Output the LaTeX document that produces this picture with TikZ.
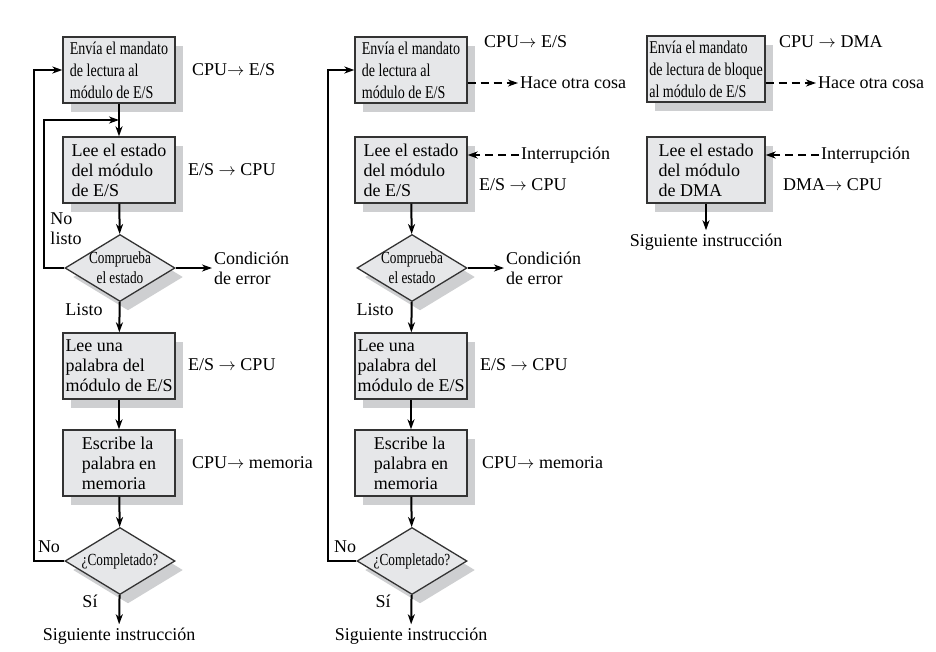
\documentclass[tikz,border=0pt]{standalone}
\usepackage{fontspec}
\setmainfont{Liberation Serif}
\newfontfamily\narrowfont[FakeStretch=0.78]{Liberation Serif}
\usepackage{xcolor}
\usetikzlibrary{arrows.meta,calc,positioning,shapes.geometric,shadows}
\definecolor{boxgray}{RGB}{230,231,233}
\definecolor{shadegray}{RGB}{206,207,209}
\tikzset{
	paso/.style={
			draw=black!80, line width=1.3pt, fill=boxgray, align=left,
			minimum width=112pt, minimum height=66pt, inner sep=2pt,
			drop shadow={shadow xshift=8pt, shadow yshift=-9pt, fill=shadegray, opacity=1}
		},
	decision/.style={
			diamond, draw=black!80, line width=1.3pt, fill=boxgray, inner sep=0pt,
			minimum width=110pt, minimum height=67pt,
			drop shadow={shadow xshift=8pt, shadow yshift=-9pt, fill=shadegray, opacity=1}
		},
	estrecho/.style={font=\narrowfont\fontsize{18}{22}\selectfont},
	rombotxt/.style={align=center, font=\narrowfont\fontsize{17}{20}\selectfont},
	flecha/.style={-{Stealth[length=10pt,width=7pt,inset=3pt]}, line width=2pt},
	discont/.style={flecha, dash pattern=on 8pt off 5pt},
	etiq/.style={inner sep=2pt, align=left}
}

\begin{document}
\begin{tikzpicture}[x=1pt, y=-1pt, every node/.style={font=\fontsize{18}{20}\selectfont}]
	\useasboundingbox (0,0) rectangle (936,651);

	% E/S programada
	\node[paso, estrecho] (b1) at (119,70) {Envía el mandato\\de lectura al\\módulo de E/S};
	\node[paso] (b2) at (119,170) {Lee el estado\\del módulo\\de E/S};
	\node[decision, label={[rombotxt]center:Comprueba\\el estado}] (d1) at (120,268) {};
	\node[paso] (b3) at (119,366) {Lee una\\palabra del\\módulo de E/S};
	\node[paso] (b4) at (119,463) {Escribe la\\palabra en\\memoria};
	\node[decision, label={[rombotxt]center:¿Completado?}] (d2) at (120,561) {};
	\node (sig1) at (119,636) {Siguiente instrucción};

	\node[etiq, anchor=west] (t1) at (190,70) {CPU$\rightarrow$ E/S};
	\node[etiq, anchor=west] (t2) at (186,170) {E/S $\rightarrow$ CPU};
	\node[etiq, anchor=west] (err1) at (212,268) {Condición\\de error};
	\node[etiq, anchor=west] (t3) at (186,365) {E/S $\rightarrow$ CPU};
	\node[etiq, anchor=west] (t4) at (190,463) {CPU$\rightarrow$ memoria};
	\node[etiq] (nl1) at (66,229) {No\\listo};
	\node[etiq] (li1) at (84,310) {Listo};
	\node[etiq] (no1) at (49,547) {No};
	\node[etiq] (si1) at (90,601) {Sí};

	\coordinate (m1) at ($(b1.south)!0.5!(b2.north)$);
	\draw[flecha] (b1) -- (b2);
	\draw[flecha] (b2) -- (d1);
	\draw[flecha] (d1) -- (b3);
	\draw[flecha] (b3) -- (b4);
	\draw[flecha] (b4) -- (d2);
	\draw[flecha] (d2) -- (sig1);
	\draw[flecha] (d1.east) -- (err1.west);
	\draw[flecha] (d1.west) -- ++(-20,0) |- (m1);
	\draw[flecha] (d2.west) -- ++(-30,0) |- (b1.west);

	% E/S con interrupciones
	\node[paso, estrecho] (c1) at (411,70) {Envía el mandato\\de lectura al\\módulo de E/S};
	\node[paso] (c2) at (411,170) {Lee el estado\\del módulo\\de E/S};
	\node[decision, label={[rombotxt]center:Comprueba\\el estado}] (d3) at (412,268) {};
	\node[paso] (c3) at (411,366) {Lee una\\palabra del\\módulo de E/S};
	\node[paso] (c4) at (411,463) {Escribe la\\palabra en\\memoria};
	\node[decision, label={[rombotxt]center:¿Completado?}] (d4) at (412,561) {};
	\node (sig2) at (411,636) {Siguiente instrucción};

	\node[etiq, anchor=west] (u1) at (482,42) {CPU$\rightarrow$ E/S};
	\node[etiq, anchor=west] (hace2) at (518,83) {Hace otra cosa};
	\node[etiq, anchor=west] (int2) at (519,155) {Interrupción};
	\node[etiq, anchor=west] (u2) at (477,185) {E/S $\rightarrow$ CPU};
	\node[etiq, anchor=west] (err2) at (504,268) {Condición\\de error};
	\node[etiq, anchor=west] (u3) at (478,365) {E/S $\rightarrow$ CPU};
	\node[etiq, anchor=west] (u4) at (480,463) {CPU$\rightarrow$ memoria};
	\node[etiq] (li2) at (375,310) {Listo};
	\node[etiq] (no2) at (345,547) {No};
	\node[etiq] (si2) at (383,601) {Sí};

	\draw[flecha] (c2) -- (d3);
	\draw[flecha] (d3) -- (c3);
	\draw[flecha] (c3) -- (c4);
	\draw[flecha] (c4) -- (d4);
	\draw[flecha] (d4) -- (sig2);
	\draw[flecha] (d3.east) -- (err2.west);
	\draw[flecha] (d4.west) -- ++(-28,0) |- (c1.west);
	\draw[discont] (hace2.west -| c1.east) -- (hace2.west);
	\draw[discont] (int2.west) -- (int2.west -| c2.east);

	% Acceso directo a memoria
	\node[paso, estrecho, minimum width=118pt] (e1) at (706,69) {Envía el mandato\\de lectura de bloque\\al módulo de E/S};
	\node[paso, minimum width=118pt] (e2) at (706,170) {Lee el estado\\del módulo\\de DMA};
	\node (sig3) at (706,242) {Siguiente instrucción};

	\node[etiq, anchor=west] (v1) at (777,42) {CPU $\rightarrow$ DMA};
	\node[etiq, anchor=west] (hace3) at (816,83) {Hace otra cosa};
	\node[etiq, anchor=west] (int3) at (819,155) {Interrupción};
	\node[etiq, anchor=west] (v2) at (781,185) {DMA$\rightarrow$ CPU};

	\draw[flecha] (e2) -- (sig3);
	\draw[discont] (hace3.west -| e1.east) -- (hace3.west);
	\draw[discont] (int3.west) -- (int3.west -| e2.east);
\end{tikzpicture}
\end{document}
